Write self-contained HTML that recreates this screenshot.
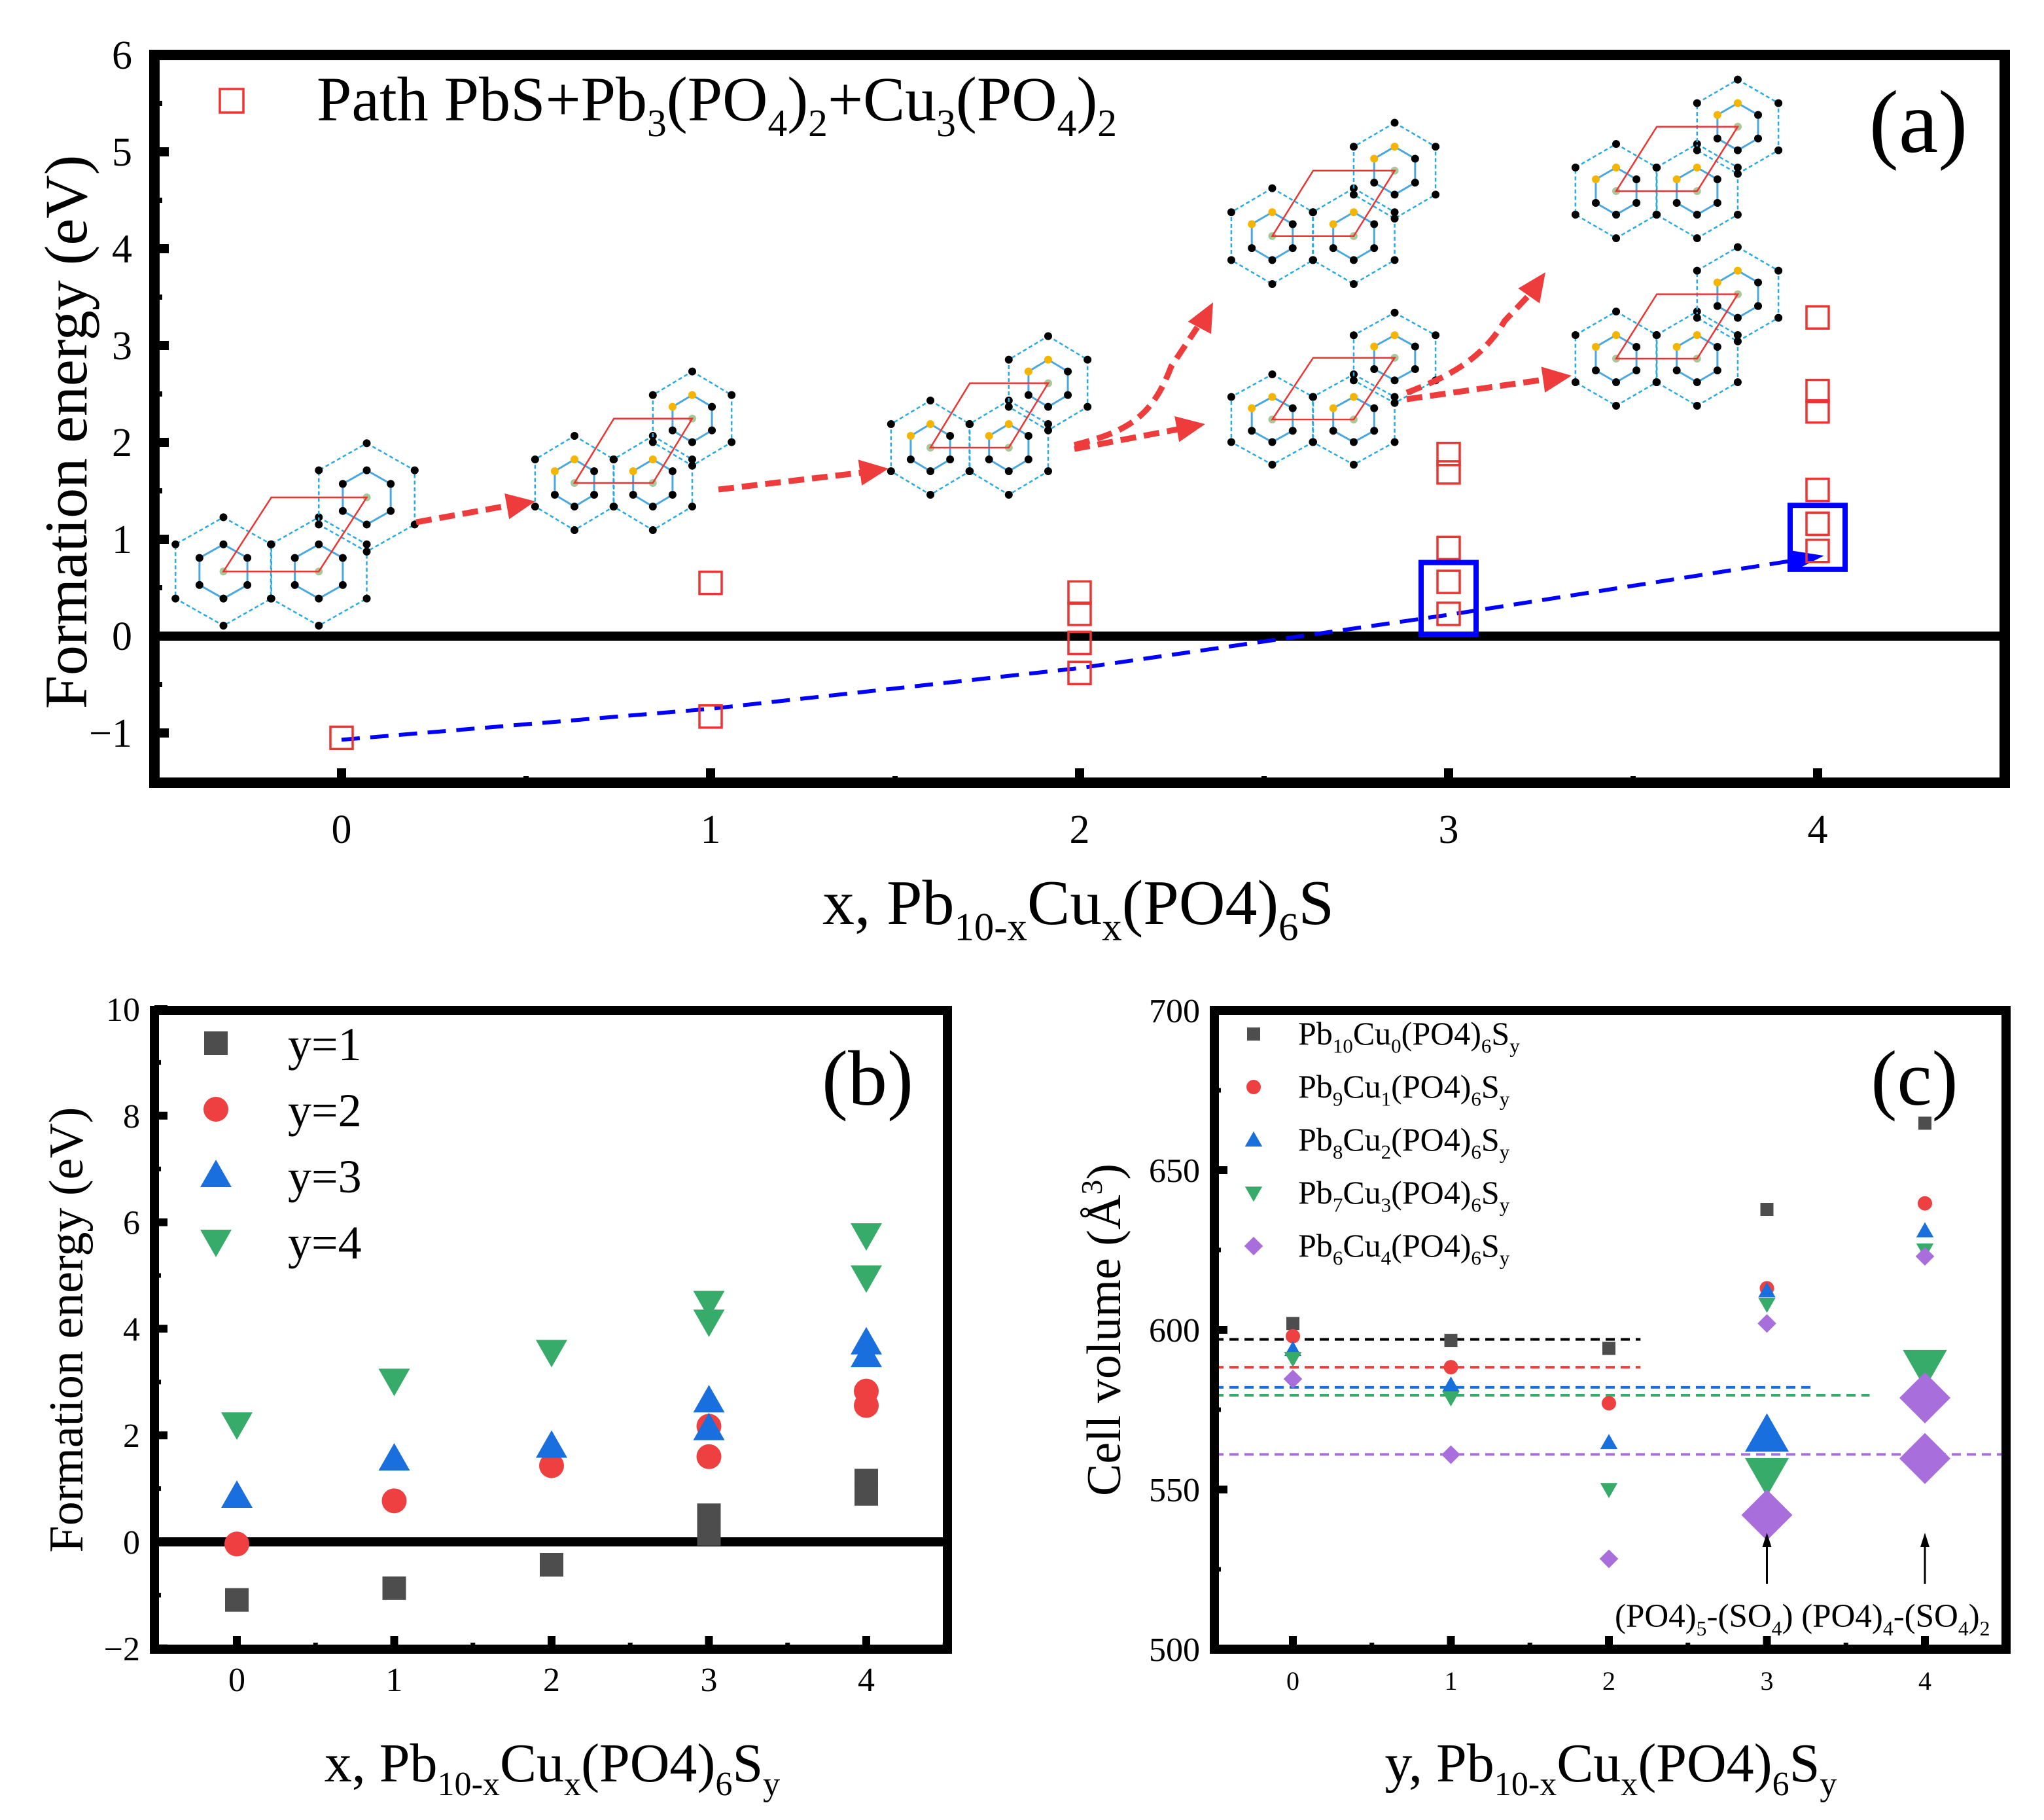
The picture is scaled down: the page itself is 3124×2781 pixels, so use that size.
<!DOCTYPE html>
<html><head><meta charset="utf-8"><style>
html,body{margin:0;padding:0;background:#fff}
svg{display:block;font-family:"Liberation Serif",serif}
</style></head><body>
<svg id="fig" xmlns="http://www.w3.org/2000/svg" width="3124" height="2781" viewBox="0 0 3124 2781">
<rect width="3124" height="2781" fill="#fff"/>
<g id="pa"></g>
<g id="pb"></g>
<g id="pc"></g>
</svg>
<script>
// ---------- Panel (a) data ----------
const aXTicks = [0,1,2,3,4];
const aYTicks = [-1,0,1,2,3,4,5,6];
const aPathX = [0,1,1,2,2,2,2,3,3,3,3,3,4,4,4,4,4,4];
const aPathE = [-1.05,0.55,-0.83,0.45,0.23,-0.07,-0.38,1.88,1.69,0.91,0.56,0.23,3.29,2.53,2.32,1.51,1.16,0.88];
const aTrendX = [0,1,2,3,4];
const aTrendE = [-1.07,-0.75,-0.33,0.22,0.82];
const aBoxX = [3,4];
const aBoxLo = [0.02,0.69];
const aBoxHi = [0.76,1.35];
// ---------- Panel (b) data ----------
const bXTicks = [0,1,2,3,4];
const bYTicks = [-2,0,2,4,6,8,10];
const bY1x = [0,1,2,3,3,3,4,4];
const bY1 = [-1.09,-0.87,-0.43,0.5,0.3,0.15,1.15,0.9];
const bY2x = [0,1,2,3,3,4,4];
const bY2 = [-0.04,0.77,1.43,2.17,1.6,2.83,2.56];
const bY3x = [0,1,2,3,3,4,4];
const bY3 = [0.86,1.56,1.8,2.65,2.13,3.74,3.5];
const bY4x = [0,1,2,3,3,4,4];
const bY4 = [2.21,3.03,3.57,4.49,4.14,5.76,4.97];
// ---------- Panel (c) data ----------
const cXTicks = [0,1,2,3,4];
const cYTicks = [500,550,600,650,700];
const cCu0 = [602,596.7,594.2,637.7,664.7];
const cCu1 = [598,588.3,577,613,639.6];
const cCu2 = [593.8,582.7,564.7,612.2,631];
const cCu3 = [591,578.7,550,608,625];
const cCu4 = [584.6,560.9,528.3,602,623];
const cBigX = [3,3,3,4,4,4];
const cBigV = [567,554.7,542,588.5,578.7,559.7];
const cBigKind = ['tri','tdown','dia','tdown','dia','dia'];
const cRefV = [597,588.3,582,579.5,561];
const cRefEnd = [2.2,2.2,3.3,3.65,4.5];

const NS="http://www.w3.org/2000/svg";
function mk(parent,tag,attrs){const e=document.createElementNS(NS,tag);for(const k in attrs)e.setAttribute(k,attrs[k]);parent.appendChild(e);return e;}
function txt(parent,x,y,str,size,anchor){const t=mk(parent,'text',{x:x,y:y,'font-size':size,'text-anchor':anchor||'middle',fill:'#000'});t.textContent=str;return t;}
function rich(parent,x,y,parts,size,anchor){
  const t=mk(parent,'text',{x:x,y:y,'font-size':size,'text-anchor':anchor||'start',fill:'#000'});
  let cur=0;
  parts.forEach(p=>{const s=document.createElementNS(NS,'tspan');s.textContent=p[0];
    let target=p[1]==='sub'?size*0.25:(p[1]==='sup'?-size*0.38:0);
    s.setAttribute('dy',target-cur);cur=target;
    if(p[1]!=='n')s.setAttribute('font-size',size*0.62);
    t.appendChild(s);});
  return t;}
function marker(parent,kind,cx,cy,s,color){
  let e;
  if(kind==='sq'){e=mk(parent,'rect',{x:cx-s/2,y:cy-s/2,width:s,height:s,fill:color});}
  else if(kind==='circ'){e=mk(parent,'circle',{cx:cx,cy:cy,r:s/2,fill:color});}
  else if(kind==='tri'){e=mk(parent,'polygon',{points:`${cx},${cy-s*0.6} ${cx+s*0.6},${cy+s*0.45} ${cx-s*0.6},${cy+s*0.45}`,fill:color});}
  else if(kind==='tdown'){e=mk(parent,'polygon',{points:`${cx},${cy+s*0.6} ${cx+s*0.6},${cy-s*0.45} ${cx-s*0.6},${cy-s*0.45}`,fill:color});}
  else if(kind==='dia'){e=mk(parent,'polygon',{points:`${cx},${cy-s*0.65} ${cx+s*0.65},${cy} ${cx},${cy+s*0.65} ${cx-s*0.65},${cy}`,fill:color});}
  return e;}
function frame(g,x0,y0,x1,y1,w){return mk(g,'rect',{x:x0,y:y0,width:x1-x0,height:y1-y0,fill:'none',stroke:'#000','stroke-width':w});}

// ======= Panel A =======
const pa=document.getElementById('pa');
const AX0=236,AX1=3064,AY0=84,AY1=1196;
const xa=v=>522+v*564, ya=v=>972-v*148;
function structure(g,bx,by,W,H,yellow){
  const hw=0.198*W, rv=0.30*H;
  const centers=[[0.204,0.70],[0.598,0.70],[0.796,0.29]].map(c=>[bx+c[0]*W,by+c[1]*H]);
  const hexPts=(cx,cy,sc)=>[[0,-rv],[hw,-rv/2],[hw,rv/2],[0,rv],[-hw,rv/2],[-hw,-rv/2]].map(p=>[cx+p[0]*sc,cy+p[1]*sc]);
  centers.forEach((c,i)=>{
    const o=hexPts(c[0],c[1],1);
    mk(g,'polygon',{points:o.map(p=>p.join(',')).join(' '),fill:'none',stroke:'#29abe2','stroke-width':2.5,'stroke-dasharray':'6,4'});
    const inn=hexPts(c[0],c[1],0.5);
    mk(g,'polygon',{points:inn.map(p=>p.join(',')).join(' '),fill:'none',stroke:'#4aa8de','stroke-width':3});
    o.forEach(p=>mk(g,'circle',{cx:p[0],cy:p[1],r:6,fill:'#000'}));
    inn.forEach((p,j)=>mk(g,'circle',{cx:p[0],cy:p[1],r:6,fill:(yellow&&(j===0||j===5))?'#f5b400':'#000'}));
    mk(g,'circle',{cx:c[0],cy:c[1],r:6,fill:'#a8c89a'});
  });
  const [L,R,U]=centers;
  mk(g,'polygon',{points:`${L[0]},${L[1]} ${R[0]},${R[1]} ${U[0]},${U[1]} ${U[0]-(R[0]-L[0])},${U[1]}`,fill:'none',stroke:'#ee3333','stroke-width':2.5});
}
const gs=mk(pa,'g',{});


structure(gs,266,680,370,276,false);
structure(gs,816,570,304,240,true);
structure(gs,1360,516,304,240,true);
structure(gs,1880,190,316,244,true);
structure(gs,1880,480,316,230,true);
structure(gs,2406,124,314,240,true);
structure(gs,2406,380,314,240,true);
const ga=mk(pa,'g',{});


function arrow(g,d,tip,ang,color){
  mk(g,'path',{d:d,fill:'none',stroke:color,'stroke-width':9,'stroke-dasharray':'24,12'});
  const L=44,Wd=20,a=ang*Math.PI/180;
  const bx=tip[0]-L*Math.cos(a),by=tip[1]-L*Math.sin(a);
  mk(g,'polygon',{points:`${tip[0]},${tip[1]} ${bx-Wd*Math.sin(a)},${by+Wd*Math.cos(a)} ${bx+Wd*Math.sin(a)},${by-Wd*Math.cos(a)}`,fill:color});
}
arrow(ga,'M636,798 L780,772',[818,766],-10,'#ee3b3b');
arrow(ga,'M1098,748 L1318,722',[1358,716],-8,'#ee3b3b');
arrow(ga,'M1642,686 L1800,656',[1842,648],-10,'#ee3b3b');
arrow(ga,'M1642,680 C1720,660 1760,640 1790,560 L1830,500',[1854,462],-62,'#ee3b3b');
arrow(ga,'M2150,610 L2360,580',[2402,574],-8,'#ee3b3b');
arrow(ga,'M2150,600 C2230,570 2270,540 2300,490 L2336,452',[2362,416],-55,'#ee3b3b');
const z=mk(pa,'line',{x1:AX0,x2:AX1,y1:ya(0),y2:ya(0),stroke:'#000','stroke-width':14});


let dpath='';
aTrendX.forEach((x,i)=>{dpath+=(i?' L':'M')+xa(x)+','+ya(aTrendE[i]);});
const tl=mk(pa,'path',{d:dpath,fill:'none',stroke:'#0000ff','stroke-width':6,'stroke-dasharray':'28,16'});


{const n=aTrendX.length-1;const x2=xa(aTrendX[n]),y2=ya(aTrendE[n]);const x1=xa(aTrendX[n-1]),y1=ya(aTrendE[n-1]);
 const a=Math.atan2(y2-y1,x2-x1),L=40,W=16,bx=x2-L*Math.cos(a),by=y2-L*Math.sin(a);
 const ah=mk(pa,'polygon',{points:`${x2+10*Math.cos(a)},${y2+10*Math.sin(a)} ${bx-W*Math.sin(a)},${by+W*Math.cos(a)} ${bx+W*Math.sin(a)},${by-W*Math.cos(a)}`,fill:'#0000ff'});
 
 }
aPathX.forEach((x,i)=>{
  const r=mk(pa,'rect',{x:xa(x)-17,y:ya(aPathE[i])-17,width:34,height:34,fill:'none',stroke:'#ee3333','stroke-width':3.5});
  
  
});
aBoxX.forEach((x,i)=>{
  const r=mk(pa,'rect',{x:xa(x)-42,y:ya(aBoxHi[i]),width:84,height:ya(aBoxLo[i])-ya(aBoxHi[i]),fill:'none',stroke:'#0000ff','stroke-width':8});
  
  
});
const fa=frame(pa,AX0,AY0,AX1,AY1,16);


aYTicks.forEach(v=>{
  mk(pa,'line',{x1:AX0,x2:AX0+22,y1:ya(v),y2:ya(v),stroke:'#000','stroke-width':14});
  if(v<6)mk(pa,'line',{x1:AX0,x2:AX0+12,y1:ya(v+0.5),y2:ya(v+0.5),stroke:'#000','stroke-width':8});
  const t=txt(pa,AX0-34,ya(v)+21,v<0?'\u2212'+Math.abs(v):String(v),62,'end');
  
  
});
aXTicks.forEach(v=>{
  mk(pa,'line',{x1:xa(v),x2:xa(v),y1:AY1,y2:AY1-22,stroke:'#000','stroke-width':14});
  mk(pa,'line',{x1:xa(v+0.5),x2:xa(v+0.5),y1:AY1,y2:AY1-10,stroke:'#000','stroke-width':8});
  const t=txt(pa,xa(v),1288,String(v),62);
  
  
});
{const t=txt(pa,0,0,'Formation energy (eV)',92);t.setAttribute('transform','translate(132,660) rotate(-90)');
 
 }
{const t=rich(pa,1648,1412,[['x, Pb','n'],['10-x','sub'],['Cu','n'],['x','sub'],['(PO4)','n'],['6','sub'],['S','n']],98,'middle');
 
 }
{const r=mk(pa,'rect',{x:336,y:136,width:36,height:36,fill:'none',stroke:'#ee3333','stroke-width':3.5});
 
 
 const t=rich(pa,484,184,[['Path PbS+Pb','n'],['3','sub'],['(PO','n'],['4','sub'],[')','n'],['2','sub'],['+Cu','n'],['3','sub'],['(PO','n'],['4','sub'],[')','n'],['2','sub']],96,'start');
 
 
 const p=txt(pa,2932,232,'(a)',136);
 
 }

// ======= Panel B =======
const pb=document.getElementById('pb');
const BX0=236,BX1=1448,BY0=1544,BY1=2520;
const xb=v=>362+v*240.5, yb=v=>2356-v*81.4;
{const zl=mk(pb,'line',{x1:BX0,x2:BX1,y1:yb(0),y2:yb(0),stroke:'#000','stroke-width':14});
 
 }
const bSeries=[[bY1x,bY1,'sq','#4d4d4d',36,'y=1'],[bY2x,bY2,'circ','#ee4040',38,'y=2'],[bY3x,bY3,'tri','#1a6fdf',40,'y=3'],[bY4x,bY4,'tdown','#37ab6a',40,'y=4']];
bSeries.forEach((s,si)=>{
  s[0].forEach((x,i)=>{const m=marker(pb,s[2],xb(x),yb(s[1][i]),s[4],s[3]);
    
    });
  const lm=marker(pb,s[2],330,1594+si*101,s[4],s[3]);
  
  
  const lt=txt(pb,440,1620+si*101,s[5],72,'start');
  
  
});
const fb=frame(pb,BX0,BY0,BX1,BY1,14);


bYTicks.forEach(v=>{
  mk(pb,'line',{x1:BX0,x2:BX0+20,y1:yb(v),y2:yb(v),stroke:'#000','stroke-width':12});
  if(v<10)mk(pb,'line',{x1:BX0,x2:BX0+10,y1:yb(v+1),y2:yb(v+1),stroke:'#000','stroke-width':7});
  const t=txt(pb,BX0-22,yb(v)+18,v<0?'\u2212'+Math.abs(v):String(v),52,'end');
  
  
});
bXTicks.forEach(v=>{
  mk(pb,'line',{x1:xb(v),x2:xb(v),y1:BY1,y2:BY1-20,stroke:'#000','stroke-width':12});
  mk(pb,'line',{x1:xb(v+0.5),x2:xb(v+0.5),y1:BY1,y2:BY1-10,stroke:'#000','stroke-width':7});
  const t=txt(pb,xb(v),2584,String(v),52);
  
  
});
{const t=txt(pb,0,0,'Formation energy (eV)',74);t.setAttribute('transform','translate(126,2032) rotate(-90)');
 
 
 const x=rich(pb,844,2722,[['x, Pb','n'],['10-x','sub'],['Cu','n'],['x','sub'],['(PO4)','n'],['6','sub'],['S','n'],['y','sub']],84,'middle');
 
 
 const p=txt(pb,1326,1688,'(b)',120);
 
 }

// ======= Panel C =======
const pc=document.getElementById('pc');
const CX0=1856,CX1=3066,CY0=1544,CY1=2520;
const xc=v=>1976+v*241.5, yc=v=>1544+(700-v)*4.88;
const cCols=['#000000','#ee3b3b','#1a6fdf','#37ab6a','#a86fdc'];
cRefV.forEach((v,i)=>{const l=mk(pc,'line',{x1:CX0,x2:xc(cRefEnd[i]),y1:yc(v),y2:yc(v),stroke:i===0?'#000':cCols[i],'stroke-width':4,'stroke-dasharray':'14,9'});
  
  });
const cSeries=[[cCu0,'sq','#4d4d4d',20,[['Pb','n'],['10','sub'],['Cu','n'],['0','sub'],['(PO4)','n'],['6','sub'],['S','n'],['y','sub']]],
 [cCu1,'circ','#ee4040',22,[['Pb','n'],['9','sub'],['Cu','n'],['1','sub'],['(PO4)','n'],['6','sub'],['S','n'],['y','sub']]],
 [cCu2,'tri','#1a6fdf',22,[['Pb','n'],['8','sub'],['Cu','n'],['2','sub'],['(PO4)','n'],['6','sub'],['S','n'],['y','sub']]],
 [cCu3,'tdown','#37ab6a',22,[['Pb','n'],['7','sub'],['Cu','n'],['3','sub'],['(PO4)','n'],['6','sub'],['S','n'],['y','sub']]],
 [cCu4,'dia','#a86fdc',22,[['Pb','n'],['6','sub'],['Cu','n'],['4','sub'],['(PO4)','n'],['6','sub'],['S','n'],['y','sub']]]];
const kindColor={tri:'#1a6fdf',tdown:'#37ab6a',dia:'#a86fdc'};
cBigX.forEach((x,i)=>{const m=marker(pc,cBigKind[i],xc(x),yc(cBigV[i]),cBigKind[i]==='dia'?60:56,kindColor[cBigKind[i]]);
  
  });
cSeries.forEach((s,si)=>{
  s[0].forEach((v,i)=>{const m=marker(pc,s[1],xc(cXTicks[i]),yc(v),s[3],s[2]);
    
    });
  const lm=marker(pc,s[1],1916,1580+si*81,s[3],s[2]);
  
  
  const lt=rich(pc,1984,1596+si*81,s[4],50,'start');
  
  
});
[3,4].forEach(x=>{
  const l=mk(pc,'line',{x1:xc(x),x2:xc(x),y1:2420,y2:2360,stroke:'#000','stroke-width':3});
  
  
  mk(pc,'polygon',{points:`${xc(x)},${2342} ${xc(x)-7},${2364} ${xc(x)+7},${2364}`,fill:'#000'});
});
{const t=rich(pc,2468,2486,[['(PO4)','n'],['5','sub'],['-(SO','n'],['4','sub'],[') (PO4)','n'],['4','sub'],['-(SO','n'],['4','sub'],[')','n'],['2','sub']],51,'start');
 
 }
const fc=frame(pc,CX0,CY0,CX1,CY1,14);


cYTicks.forEach(v=>{
  mk(pc,'line',{x1:CX0,x2:CX0+20,y1:yc(v),y2:yc(v),stroke:'#000','stroke-width':12});
  if(v<700)mk(pc,'line',{x1:CX0,x2:CX0+10,y1:yc(v+25),y2:yc(v+25),stroke:'#000','stroke-width':7});
  const t=txt(pc,CX0-22,yc(v)+18,String(v),52,'end');
  
  
});
cXTicks.forEach(v=>{
  mk(pc,'line',{x1:xc(v),x2:xc(v),y1:CY1,y2:CY1-20,stroke:'#000','stroke-width':12});
  mk(pc,'line',{x1:xc(v+0.5),x2:xc(v+0.5),y1:CY1,y2:CY1-10,stroke:'#000','stroke-width':7});
  const t=txt(pc,xc(v),2582,String(v),40);
  
  
});
{const t=rich(pc,0,0,[['Cell volume (Å','n'],['3','sup'],[')','n']],74,'middle');t.setAttribute('transform','translate(1712,2032) rotate(-90)');
 
 
 const x=rich(pc,2462,2722,[['y, Pb','n'],['10-x','sub'],['Cu','n'],['x','sub'],['(PO4)','n'],['6','sub'],['S','n'],['y','sub']],84,'middle');
 
 
 const p=txt(pc,2926,1688,'(c)',120);
 
 }
</script>
</body></html>
